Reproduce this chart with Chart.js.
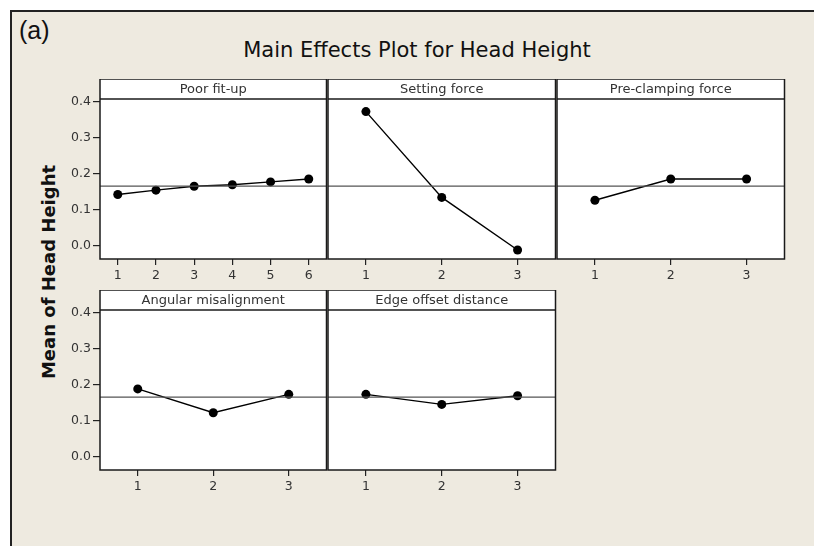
<!DOCTYPE html>
<html>
<head>
<meta charset="utf-8">
<script src="https://cdn.jsdelivr.net/npm/chart.js@4/dist/chart.umd.min.js"></script>
<style>
  body { margin: 0; background: #fff; width: 814px; height: 546px; overflow: hidden; position: relative; }
  #frame { position: absolute; left: 10px; top: 10px; right: 0; bottom: 0; background: #eeeae0;
           border-left: 2px solid #222; border-top: 2px solid #222; }
  #tag { position: absolute; left: 19px; top: 16px; font: 25px "Liberation Sans", Arial, sans-serif; color: #111; }
  #title { position: absolute; left: 167px; width: 500px; top: 38px; text-align: center;
           font: 21px "DejaVu Sans", sans-serif; color: #111; line-height: 25px; }
  #ylab { position: absolute; left: 48px; top: 272px; white-space: nowrap;
          transform: translate(-50%, -50%) rotate(-90deg);
          font: bold 18px "DejaVu Sans", sans-serif; color: #111; }
  canvas { position: absolute; }
</style>
</head>
<body>
<div id="frame"></div>
<div id="tag">(a)</div>
<div id="title">Main Effects Plot for Head Height</div>
<div id="ylab">Mean of Head Height</div>
<canvas id="c0"></canvas>
<canvas id="c1"></canvas>
<canvas id="c2"></canvas>
<canvas id="c3"></canvas>
<canvas id="c4"></canvas>
<script>
"use strict";
// factor names (panel strips)
var factorNames = ['Poor fit-up', 'Setting force', 'Pre-clamping force', 'Angular misalignment', 'Edge offset distance'];

// levels and mean of head height for each factor
var poorFitLevels = [1, 2, 3, 4, 5, 6];
var poorFitMeans = [0.143, 0.155, 0.166, 0.170, 0.178, 0.186];
var settingLevels = [1, 2, 3];
var settingMeans = [0.373, 0.135, -0.011];
var preClampLevels = [1, 2, 3];
var preClampMeans = [0.127, 0.186, 0.186];
var angularLevels = [1, 2, 3];
var angularMeans = [0.189, 0.123, 0.174];
var edgeLevels = [1, 2, 3];
var edgeMeans = [0.174, 0.146, 0.170];

var grandMean = 0.166;
var yTicks = [0, 0.1, 0.2, 0.3, 0.4];

// panel placement on the page
var panels = [
  { id: 'c0', levels: poorFitLevels, means: poorFitMeans, left: 100, top: 79, width: 228, xmin: 0.535, xmax: 6.465, yaxis: true },
  { id: 'c1', levels: settingLevels, means: settingMeans, left: 328, top: 79, width: 229, xmin: 0.5, xmax: 3.5, yaxis: false },
  { id: 'c2', levels: preClampLevels, means: preClampMeans, left: 557, top: 79, width: 229, xmin: 0.5, xmax: 3.5, yaxis: false },
  { id: 'c3', levels: angularLevels, means: angularMeans, left: 100, top: 290, width: 228, xmin: 0.5, xmax: 3.5, yaxis: true },
  { id: 'c4', levels: edgeLevels, means: edgeMeans, left: 328, top: 290, width: 229, xmin: 0.5, xmax: 3.5, yaxis: false }
];
var AXW = 50, STRIP = 20, PLOTH = 160, XAXH = 30;

var tickFont = { family: '"DejaVu Sans", sans-serif', size: 12.5 };

var panelBox = {
  id: 'panelBox',
  beforeDraw(chart) {
    var a = chart.chartArea, ctx = chart.ctx;
    ctx.save();
    ctx.fillStyle = '#fff';
    ctx.fillRect(a.left, a.top - STRIP, a.right - a.left, a.bottom - a.top + STRIP);
    ctx.restore();
  },
  afterDraw(chart) {
    var a = chart.chartArea, ctx = chart.ctx;
    var name = chart.options.plugins.panelBox.name;
    ctx.save();
    ctx.strokeStyle = '#1a1a1a';
    ctx.lineWidth = 1.5;
    ctx.strokeRect(a.left, a.top - STRIP, a.right - a.left, a.bottom - a.top + STRIP);
    ctx.beginPath();
    ctx.moveTo(a.left, a.top);
    ctx.lineTo(a.right, a.top);
    ctx.stroke();
    ctx.fillStyle = '#333';
    ctx.font = '13px "DejaVu Sans", sans-serif';
    ctx.textAlign = 'center';
    ctx.textBaseline = 'middle';
    ctx.fillText(name, (a.left + a.right) / 2, a.top - STRIP / 2 + 1);
    ctx.restore();
  }
};

panels.forEach(function (p, i) {
  var cv = document.getElementById(p.id);
  cv.width = p.width + AXW + 3;
  cv.height = STRIP + PLOTH + XAXH;
  cv.style.left = (p.left - AXW) + 'px';
  cv.style.top = p.top + 'px';

  new Chart(cv.getContext('2d'), {
    type: 'line',
    data: {
      datasets: [{
        label: 'mean',
        data: [{ x: p.xmin, y: grandMean }, { x: p.xmax, y: grandMean }],
        borderColor: '#555',
        borderWidth: 1.2,
        pointRadius: 0
      }, {
        label: factorNames[i],
        data: p.levels.map(function (l, k) { return { x: l, y: p.means[k] }; }),
        borderColor: '#000',
        borderWidth: 1.4,
        pointRadius: 4.5,
        pointBackgroundColor: '#000',
        pointBorderWidth: 0
      }]
    },
    options: {
      responsive: false,
      animation: false,
      layout: { padding: { top: STRIP, right: 3, left: 0, bottom: 0 } },
      plugins: {
        legend: { display: false },
        tooltip: { enabled: false },
        panelBox: { name: factorNames[i] }
      },
      scales: {
        x: {
          type: 'linear',
          min: p.xmin,
          max: p.xmax,
          afterBuildTicks: function (s) { s.ticks = p.levels.map(function (v) { return { value: v }; }); },
          afterFit: function (s) { s.height = XAXH; },
          border: { display: false },
          grid: { drawOnChartArea: false, drawTicks: true, tickLength: 6, color: '#222', lineWidth: 1.2 },
          ticks: { font: tickFont, color: '#333', padding: 3, maxRotation: 0, autoSkip: false,
                   callback: function (v) { return String(v); } }
        },
        y: {
          min: -0.036,
          max: 0.408,
          afterBuildTicks: function (s) { s.ticks = yTicks.map(function (v) { return { value: v }; }); },
          afterFit: function (s) { s.width = AXW; },
          border: { display: false },
          grid: { display: p.yaxis, drawOnChartArea: false, drawTicks: true, tickLength: 7, color: '#222', lineWidth: 1.2 },
          ticks: { display: p.yaxis, font: tickFont, color: '#333', padding: 2,
                   callback: function (v) { return Number(v).toFixed(1); } }
        }
      }
    },
    plugins: [panelBox]
  });
});
</script>
</body>
</html>
